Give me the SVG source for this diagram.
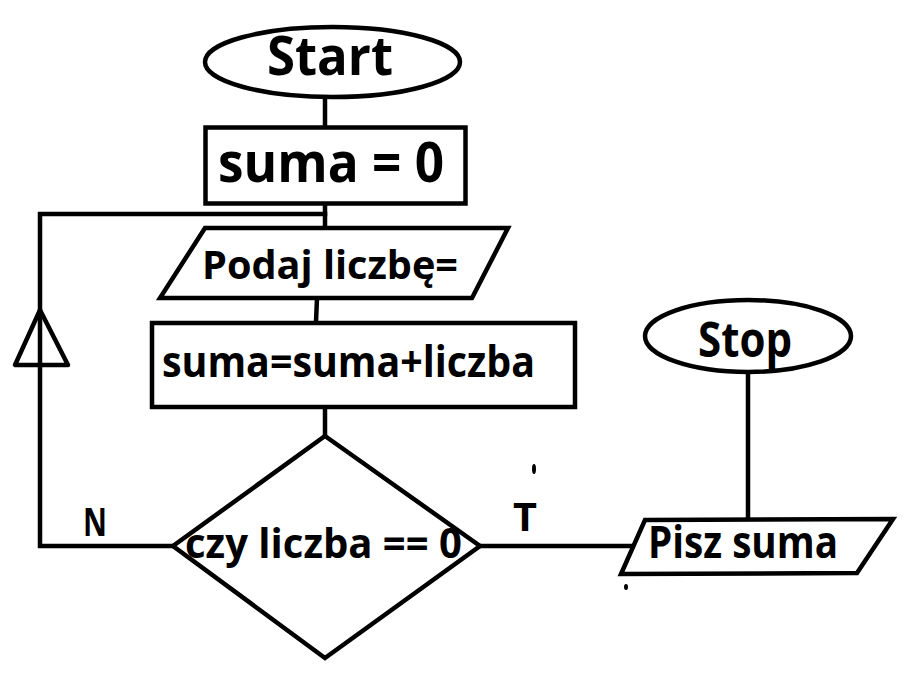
<svg xmlns="http://www.w3.org/2000/svg" width="906" height="687" viewBox="0 0 906 687">
<style>
.s{fill:#fff;stroke:#000;stroke-width:4.5;stroke-linejoin:miter}
.c{fill:none;stroke:#000;stroke-width:4.5;stroke-linecap:square}
.t{font-family:"Open Sans","Noto Sans","Liberation Sans",sans-serif;font-weight:bold;fill:#000}
</style>
<rect width="906" height="687" fill="#fff"/>
<g id="connectors">
<line class="c" x1="325" y1="99" x2="325" y2="126"/>
<line class="c" x1="325" y1="206" x2="325" y2="228"/>
<polyline class="c" points="325,214 40,214 40,546 173,546"/>
<polygon points="40,310 15,365 68,365" fill="none" stroke="#000" stroke-width="4.5" stroke-linejoin="round"/>
<line class="c" x1="317" y1="298" x2="316" y2="322"/>
<line class="c" x1="325" y1="407" x2="325" y2="436"/>
<line class="c" x1="480" y1="546" x2="633" y2="546"/>
<line class="c" x1="748" y1="373" x2="748" y2="519"/>
</g>
<g id="start">
<ellipse class="s" cx="332.5" cy="62" rx="127.5" ry="35"/>
<text class="t" x="267" y="75" font-size="54" textLength="126" lengthAdjust="spacingAndGlyphs">Start</text>
</g>
<g id="init">
<rect class="s" x="205.5" y="127.5" width="260" height="76" stroke-width="5"/>
<text class="t" x="218" y="182" font-size="55" textLength="226" lengthAdjust="spacingAndGlyphs">suma = 0</text>
</g>
<g id="input">
<polygon class="s" points="205,228 508,228 472,298 160,298"/>
<text class="t" x="202" y="279" font-size="40" textLength="256" lengthAdjust="spacingAndGlyphs">Podaj liczbę=</text>
</g>
<g id="sum">
<rect class="s" x="152" y="323" width="423" height="84"/>
<text class="t" x="162" y="377" font-size="43" textLength="373" lengthAdjust="spacingAndGlyphs">suma=suma+liczba</text>
</g>
<g id="decision">
<polygon class="s" points="325,436 480,546 325,658 173,546"/>
<text class="t" x="185" y="558" font-size="41" textLength="277" lengthAdjust="spacingAndGlyphs">czy liczba == 0</text>
</g>
<g id="labels">
<text class="t" x="83" y="536" font-size="40" textLength="24" lengthAdjust="spacingAndGlyphs">N</text>
<text class="t" x="513" y="531" font-size="40" textLength="24" lengthAdjust="spacingAndGlyphs">T</text>
<ellipse cx="534" cy="469" rx="2" ry="5" fill="#000"/>
<ellipse cx="626" cy="587" rx="2" ry="3" fill="#000"/>
</g>
<g id="output">
<polygon class="s" points="645,520 893,519 857,573 621,574"/>
<text class="t" x="648" y="558" font-size="44" textLength="190" lengthAdjust="spacingAndGlyphs">Pisz suma</text>
</g>
<g id="stop">
<ellipse class="s" cx="748" cy="336" rx="103" ry="36"/>
<text class="t" x="698" y="357" font-size="48" textLength="94" lengthAdjust="spacingAndGlyphs">Stop</text>
</g>
</svg>
